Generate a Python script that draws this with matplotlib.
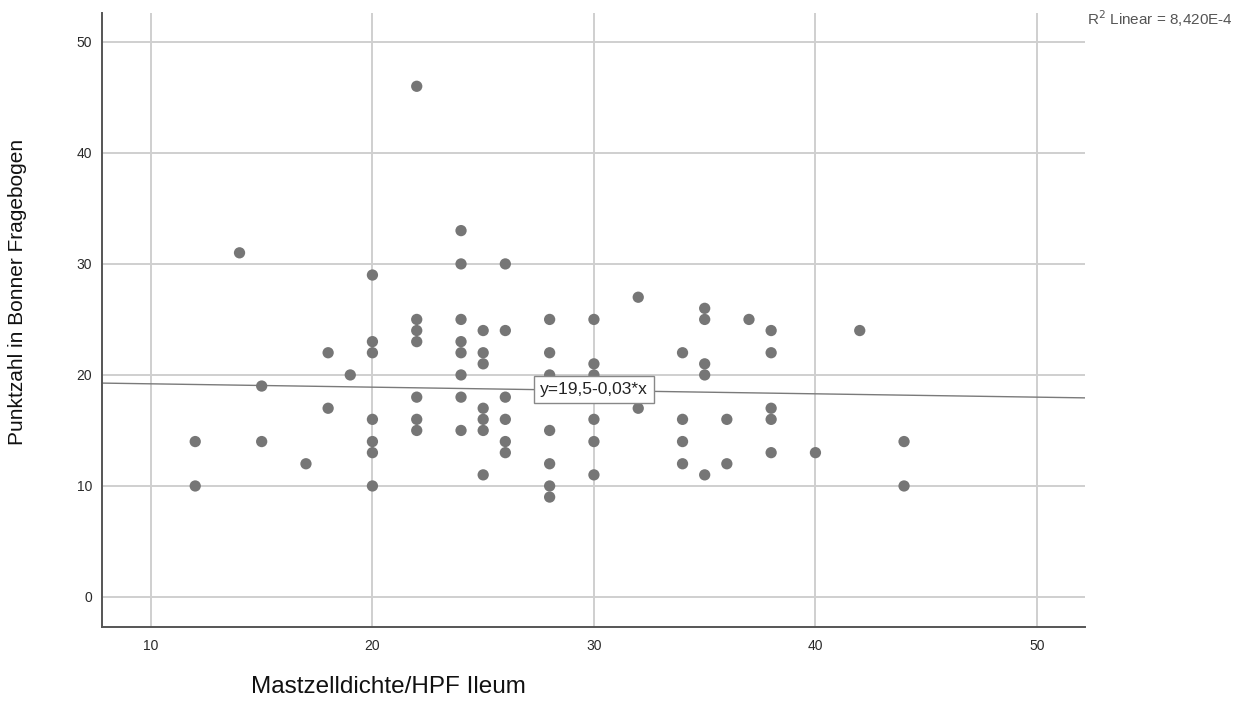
import numpy as np
import matplotlib.pyplot as plt

plt.rcParams['font.family'] = ['Liberation Sans', 'DejaVu Sans']

# Mastzelldichte/HPF Ileum (x) vs. Punktzahl in Bonner Fragebogen (y)
mast_x = [12, 12, 14, 15, 15, 17, 18, 18, 19,
          20, 20, 20, 20, 20, 20, 20,
          22, 22, 22, 22, 22, 22, 22,
          24, 24, 24, 24, 24, 24, 24, 24,
          25, 25, 25, 25, 25, 25, 25,
          26, 26, 26, 26, 26, 26,
          28, 28, 28, 28, 28, 28, 28,
          30, 30, 30, 30, 30, 30,
          32, 32,
          34, 34, 34, 34,
          35, 35, 35, 35, 35,
          36, 36, 37,
          38, 38, 38, 38, 38,
          40, 42, 44, 44]
score_y = [14, 10, 31, 19, 14, 12, 22, 17, 20,
           29, 23, 22, 16, 14, 13, 10,
           46, 25, 24, 23, 18, 16, 15,
           33, 30, 25, 23, 22, 20, 18, 15,
           24, 22, 21, 17, 16, 15, 11,
           30, 24, 18, 16, 14, 13,
           25, 22, 20, 15, 12, 10, 9,
           25, 21, 20, 16, 14, 11,
           27, 17,
           22, 16, 14, 12,
           26, 25, 21, 20, 11,
           16, 12, 25,
           24, 22, 17, 16, 13,
           13, 24, 14, 10]

# fit line as printed in the chart
intercept = 19.5
slope = -0.03
fit_label = "y=19,5-0,03*x"
r2_label = r"R$^2$ Linear = 8,420E-4"

xticks = [10, 20, 30, 40, 50]
yticks = [0, 10, 20, 30, 40, 50]

fig = plt.figure(figsize=(12.42, 7.07), dpi=100)
ax = fig.add_axes([0.0821, 0.1132, 0.7915, 0.8684])

ax.set_xlim(7.79, 52.17)
ax.set_ylim(-2.7, 52.6)
ax.set_xticks(xticks)
ax.set_yticks(yticks)
ax.grid(True, color='#cfcfcf', linewidth=1.4)
ax.set_axisbelow(True)

for side in ['top', 'right']:
    ax.spines[side].set_visible(False)
for side in ['left', 'bottom']:
    ax.spines[side].set_color('#555555')
    ax.spines[side].set_linewidth(1.4)
ax.tick_params(length=0, labelsize=10, colors='#2a2a2a')
ax.tick_params(axis='y', pad=7)
ax.tick_params(axis='x', pad=9)

ax.scatter(mast_x, score_y, s=66, color='#767676', edgecolors='none', zorder=3)

x = np.array(ax.get_xlim())
ax.plot(x, intercept + slope * x, color='#7a7a7a', linewidth=1.0, zorder=2)
ax.text(30, intercept + slope * 30 + 0.1, fit_label, ha='center', va='center',
        fontsize=12.5, color='#222222', zorder=4,
        bbox=dict(boxstyle='square,pad=0.35', facecolor='white',
                  edgecolor='#888888', linewidth=1.0))

fig.text(1087 / 1242, 1 - 19 / 707, r2_label, ha='left', va='center',
         fontsize=11, color='#555555')

fig.text(17.5 / 1242, 1 - 292 / 707, 'Punktzahl in Bonner Fragebogen', rotation=90,
         ha='center', va='center', fontsize=15, color='#111111')
fig.text(388 / 1242, 1 - 687 / 707, 'Mastzelldichte/HPF Ileum',
         ha='center', va='center', fontsize=17.5, color='#111111')

fig.savefig('out.png', dpi=100)
